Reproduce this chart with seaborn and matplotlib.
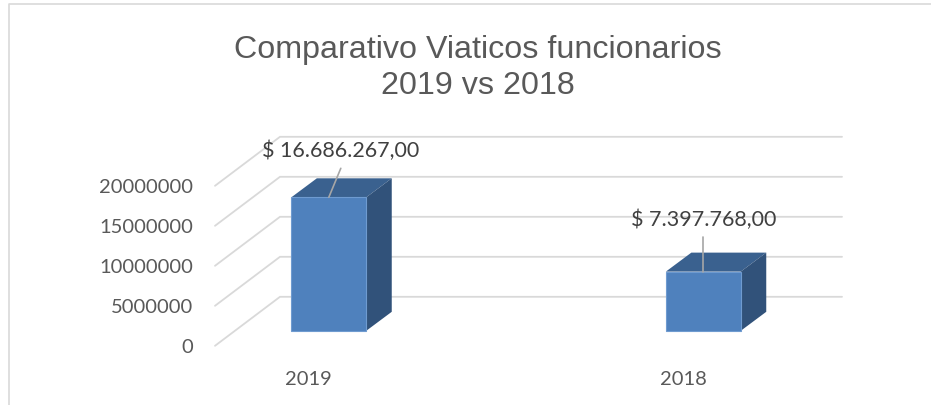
import matplotlib
matplotlib.use("Agg")
import matplotlib.pyplot as plt
from matplotlib.patches import Polygon
import pandas as pd
import seaborn as sns

years = ["2019", "2018"]
values = [16686267, 7397768]
value_labels = ["$ 16.686.267,00", "$ 7.397.768,00"]
y_ticks = [0, 5000000, 10000000, 15000000, 20000000]
title = "Comparativo Viaticos funcionarios\n2019 vs 2018"

W, H = 931, 406
sns.set_theme(style="white")
plt.rcParams["font.family"] = ["Lato", "DejaVu Sans"]

fig = plt.figure(figsize=(W / 100, H / 100), dpi=100, facecolor="white")
ax = fig.add_axes([0, 0, 1, 1])
PX_Y = 20000000 / 160
PX_X = 1 / 374.5
Y0 = 331.8
X0 = 328.8

df = pd.DataFrame({"year": years, "value": values})
sns.barplot(data=df, x="year", y="value", ax=ax, color="#4F81BD", saturation=1,
            width=0.2, linewidth=0.8, edgecolor="#6F9BD0", zorder=5)
ax.set_xlim(-X0 * PX_X, (W - X0) * PX_X)
ax.set_ylim(-(H - Y0) * PX_Y, Y0 * PX_Y)
ax.axis("off")


def pt(x, v, dx_px=0, dy_px=0):
    return (x + dx_px * PX_X, v + dy_px * PX_Y)


x_front = (215 - X0) * PX_X
x_right = (842 - X0) * PX_X
for v in y_ticks:
    a = pt(x_front, v, 0, -15)
    b = pt(x_front, v, 65, 34)
    c = pt(x_right, v, 0, 34)
    ax.plot([a[0], b[0], c[0]], [a[1], b[1], c[1]], color="#D9D9D9", lw=1.3,
            zorder=1, solid_joinstyle="miter")

DX, DY = 25.5, 19
half = 0.1
for i, v in enumerate(values):
    l, r = i - half, i + half
    top = [pt(l, v), pt(r, v), pt(r, v, DX, DY), pt(l, v, DX, DY)]
    side = [pt(r, 0), pt(r, v), pt(r, v, DX, DY), pt(r, 0, DX, DY)]
    ax.add_patch(Polygon(top, closed=True, fc="#3A618F", ec="none", zorder=4))
    ax.add_patch(Polygon(side, closed=True, fc="#31527A", ec="none", zorder=4))

leaders = [((0, 0), (12, 29)), ((0, 0), (0, 35))]
label_off = [(11.5, 47), (0.5, 53)]
for i, v in enumerate(values):
    (x0, y0), (x1, y1) = leaders[i]
    p0 = pt(i, v, x0, y0)
    p1 = pt(i, v, x1, y1)
    ax.plot([p0[0], p1[0]], [p0[1], p1[1]], color="#A6A6A6", lw=1.2, zorder=6)
    lx, ly = pt(i, v, *label_off[i])
    ax.text(lx, ly, value_labels[i], ha="center", va="center",
            fontsize=15.5, color="#404040", zorder=7)

for v in y_ticks:
    x, y = pt(x_front, v, -21.5, -16)
    ax.text(x, y, str(v), ha="right", va="center", fontsize=14.5, color="#595959")
for i, yr in enumerate(years):
    x, y = pt(i, 0, -20, -48)
    ax.text(x, y, yr, ha="center", va="center", fontsize=14.5, color="#595959")

fig.text(477.5 / W, 1 - 68 / H, title, ha="center", va="center", fontsize=23.2,
         family="Liberation Sans", color="#595959", linespacing=1.27)

fig.add_artist(plt.Line2D([8.5 / W, 8.5 / W, 1], [0, 1 - 4.5 / H, 1 - 4.5 / H],
                          color="#D9D9D9", lw=1.2))
fig.savefig("out.png", dpi=100)
